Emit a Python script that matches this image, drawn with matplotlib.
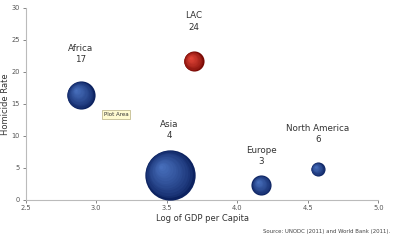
import matplotlib
matplotlib.use("Agg")
import matplotlib.pyplot as plt
import matplotlib.transforms as mtransforms
import numpy as np
from matplotlib.colors import to_rgb

regions = ["Africa", "LAC", "Asia", "Europe", "North America"]
log_gdp = [2.89, 3.69, 3.52, 4.17, 4.57]
homicide_rate = [16.4, 21.7, 3.9, 2.3, 4.8]
rate_labels = ["17", "24", "4", "3", "6"]
bubble_size = [196, 100, 625, 100, 49]
is_lac = [False, True, False, False, False]

xticks = [2.5, 3.0, 3.5, 4.0, 4.5, 5.0]
yticks = [0, 5, 10, 15, 20, 25, 30]

fig = plt.figure(figsize=(4.14, 2.40), dpi=100)
ax = fig.add_axes([0.062, 0.167, 0.852, 0.80])
ax.set_xlim(2.5, 5.0)
ax.set_ylim(0, 30)

scale = 2.1  # size units -> points^2
n_layers = 14
for x, y, s, red in zip(log_gdp, homicide_rate, bubble_size, is_lac):
    dark = np.array(to_rgb("#7a0a05" if red else "#0c2260"))
    light = np.array(to_rgb("#e8483a" if red else "#4a72c0"))
    area = s * scale
    r_pt = np.sqrt(area) / 2
    for k in range(n_layers):
        f = k / n_layers
        size = area * (1 - f) ** 2
        col = dark + (light - dark) * (f ** 0.7)
        tr = mtransforms.offset_copy(ax.transData, fig=fig,
                                     x=-f * 0.35 * r_pt, y=f * 0.35 * r_pt,
                                     units="points")
        ax.scatter([x], [y], s=size, color=col, transform=tr,
                   linewidths=0, zorder=3 + k * 0.01)

label_offsets = {"Africa": 5.5, "LAC": 5.3, "Asia": 6.2, "Europe": 3.7, "North America": 4.6}
for name, x, y, lab in zip(regions, log_gdp, homicide_rate, rate_labels):
    dy = label_offsets[name]
    ax.text(x, y + dy + 1.75, name, ha="center", va="center", fontsize=6.3, color="#333333")
    ax.text(x, y + dy, lab, ha="center", va="center", fontsize=6.3, color="#333333")

ax.set_xticks(xticks)
ax.set_xticklabels([f"{v:.1f}" for v in xticks])
ax.set_yticks(yticks)
ax.tick_params(axis="both", labelsize=4.8, colors="#555555", length=2, width=0.5, pad=2)
for sp in ["top", "right"]:
    ax.spines[sp].set_visible(False)
for sp in ["left", "bottom"]:
    ax.spines[sp].set_color("#bbbbbb")
    ax.spines[sp].set_linewidth(0.8)

ax.set_ylabel("Homicide Rate", fontsize=6, color="#333333", labelpad=1)
ax.set_xlabel("Log of GDP per Capita", fontsize=6, color="#333333", labelpad=2)

ax.text(3.14, 13.3, "Plot Area", fontsize=4, color="#333333", ha="center", va="center",
        bbox=dict(boxstyle="square,pad=0.35", fc="#fffbd0", ec="#b8b080", lw=0.5), zorder=10)

fig.text(0.942, 0.035, "Source: UNODC (2011) and World Bank (2011).", fontsize=3.9,
         color="#444444", ha="right", va="center")

fig.savefig("out.png", dpi=100, facecolor="white")
